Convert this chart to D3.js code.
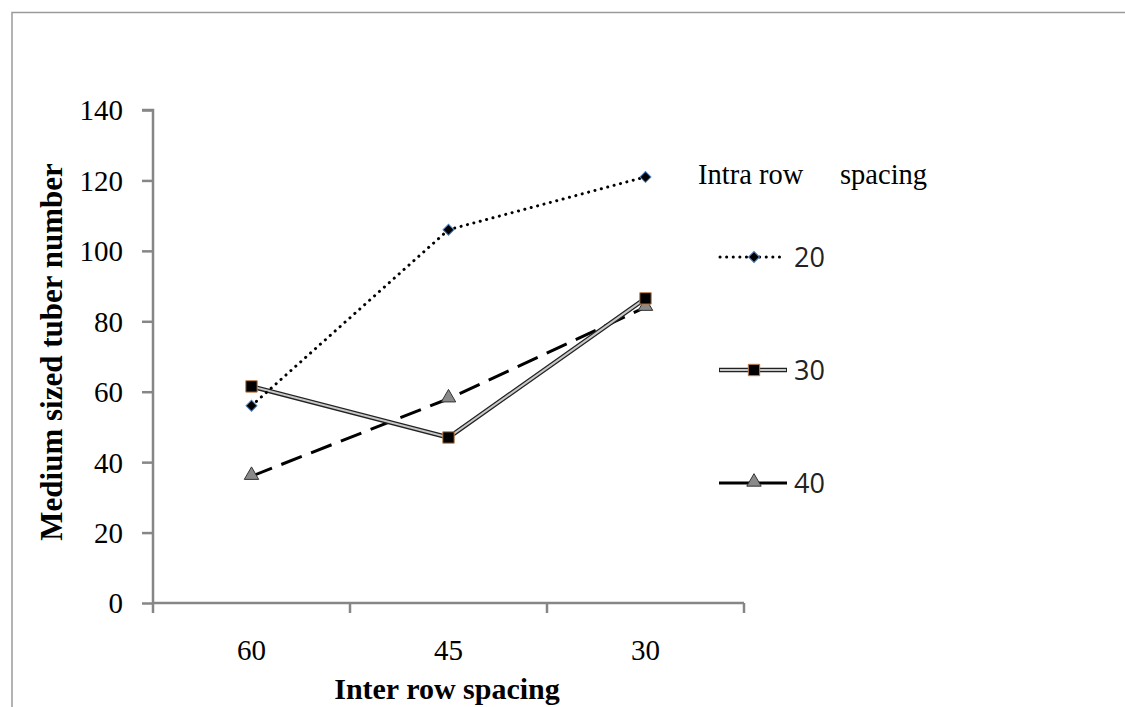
<!DOCTYPE html>
<html><head><meta charset="utf-8">
<script src="https://cdn.jsdelivr.net/npm/d3@7"></script>
<style>body{margin:0;background:#fff}svg{display:block}
.serif{font-family:"Liberation Serif","Times New Roman",serif}
.sans{font-family:"Open Sans","Liberation Sans",sans-serif}</style>
</head><body>
<script>
const categories = ["60", "45", "30"];
const seriesNames = ["20", "30", "40"];
const values20 = [56, 106, 121];
const values30 = [61.5, 47, 86.5];
const values40 = [36, 58, 84];
const yTicks = [0, 20, 40, 60, 80, 100, 120, 140];

const W = 1125, H = 707;
const svg = d3.select("body").append("svg").attr("width", W).attr("height", H);

// outer border
svg.append("path").attr("d", "M12,707 V12.5 H1125").attr("fill", "none")
  .attr("stroke", "#9a9a9a").attr("stroke-width", 1.5);

const x0 = 153, x1 = 744, y0 = 603, y1 = 110;
const x = d3.scaleBand().domain(categories).range([x0, x1]);
const y = d3.scaleLinear().domain([0, 140]).range([y0, y1]);

const axisColor = "#868686";
const yAxis = svg.append("g").attr("transform", `translate(${x0},0)`)
  .call(d3.axisLeft(y).tickValues(yTicks).tickSize(11).tickPadding(19).tickFormat(d3.format("d")));
yAxis.attr("font-family", null).attr("font-size", null);
yAxis.select(".domain").attr("stroke", axisColor).attr("stroke-width", 2.5).attr("d", `M-11,${y1}H0V${y0}`);
yAxis.selectAll(".tick line").attr("stroke", axisColor).attr("stroke-width", 2.5);
yAxis.selectAll(".tick text").attr("class", "serif").attr("font-family", "Liberation Serif")
  .style("font-size", "29px").attr("fill", "#000").attr("dy", "0.34em");

const xAxis = svg.append("g").attr("transform", `translate(0,${y0})`);
xAxis.append("line").attr("x1", x0).attr("x2", x1).attr("stroke", axisColor).attr("stroke-width", 2.5);
const bounds = categories.map(c => x(c)).concat([x1]);
xAxis.selectAll("line.tk").data(bounds).join("line").attr("class", "tk")
  .attr("x1", d => d).attr("x2", d => d).attr("y1", 0).attr("y2", 10)
  .attr("stroke", axisColor).attr("stroke-width", 2.5);
xAxis.selectAll("text").data(categories).join("text").attr("class", "serif").attr("font-family", "Liberation Serif")
  .attr("x", d => x(d) + x.bandwidth() / 2).attr("y", 57).attr("text-anchor", "middle")
  .style("font-size", "29px").text(d => d);

// axis titles
svg.append("text").attr("class", "serif").attr("transform", `translate(62,352) rotate(-90)`).attr("text-anchor", "middle")
  .attr("font-weight", "bold").style("font-size", "31px")
  .text("Medium sized tuber number");
svg.append("text").attr("class", "serif").attr("x", 447).attr("y", 699).attr("text-anchor", "middle")
  .attr("font-weight", "bold").style("font-size", "30px")
  .text("Inter row spacing");

const cx = c => x(c) + x.bandwidth() / 2;
const line = d3.line().x(d => cx(d.c)).y(d => y(d.v));
const mk = vals => categories.map((c, i) => ({c, v: vals[i]}));

const d20 = mk(values20), d30 = mk(values30), d40 = mk(values40);

// series 40 dashed
svg.append("path").attr("d", line(d40)).attr("fill", "none").attr("stroke", "#000")
  .attr("stroke-width", 3).attr("stroke-dasharray", "22,10");
// series 30 double line
svg.append("path").attr("d", line(d30)).attr("fill", "none").attr("stroke", "#222").attr("stroke-width", 4.5);
svg.append("path").attr("d", line(d30)).attr("fill", "none").attr("stroke", "#c8c8c8").attr("stroke-width", 2);
// series 20 dotted
svg.append("path").attr("d", line(d20)).attr("fill", "none").attr("stroke", "#000")
  .attr("stroke-width", 3).attr("stroke-dasharray", "0.1,6.5").attr("stroke-linecap", "round");

const sym = {
  diamond: d3.symbol().type(d3.symbolSquare).size(60),
  square: d3.symbol().type(d3.symbolSquare).size(130),
  tri: d3.symbol().type(d3.symbolTriangle).size(90)
};
const markerTransform = kind => kind === "diamond" ? " rotate(45)" : kind === "tri" ? " translate(0,-1)" : "";
const markerFill = kind => kind === "tri" ? "#8a8a8a" : "#000";
const markerStroke = kind => kind === "diamond" ? "#4f81bd" : kind === "square" ? "#c0804d" : "#333";
function drawMarkers(data, kind) {
  svg.append("g").selectAll("path").data(data).join("path")
    .attr("transform", d => `translate(${cx(d.c)},${y(d.v)})` + markerTransform(kind))
    .attr("d", sym[kind]).attr("fill", markerFill(kind))
    .attr("stroke", markerStroke(kind)).attr("stroke-width", 1);
}
drawMarkers(d40, "tri");
drawMarkers(d30, "square");
drawMarkers(d20, "diamond");

// legend
svg.append("text").attr("class", "serif").attr("x", 698).attr("y", 184).style("font-size", "28.5px").text("Intra row");
svg.append("text").attr("class", "serif").attr("x", 840).attr("y", 184).style("font-size", "28.5px").text("spacing");
const legY = [257, 370, 483];
const kinds = ["diamond", "square", "tri"];
seriesNames.forEach((n, i) => {
  const g = svg.append("g").attr("transform", `translate(0,${legY[i]})`);
  if (i === 0) {
    g.append("line").attr("x1", 720).attr("x2", 784).attr("stroke", "#000").attr("stroke-width", 3)
      .attr("stroke-dasharray", "0.1,6.5").attr("stroke-linecap", "round");
  } else if (i === 1) {
    g.append("line").attr("x1", 719).attr("x2", 787).attr("stroke", "#222").attr("stroke-width", 4.5);
    g.append("line").attr("x1", 720).attr("x2", 786).attr("stroke", "#c8c8c8").attr("stroke-width", 2);
  } else {
    g.append("line").attr("x1", 719).attr("x2", 787).attr("stroke", "#000").attr("stroke-width", 3);
  }
  g.append("path").attr("transform", `translate(754,0)` + markerTransform(kinds[i]))
    .attr("d", sym[kinds[i]]).attr("fill", markerFill(kinds[i])).attr("stroke", markerStroke(kinds[i]));
  g.append("text").attr("class", "sans").attr("x", 794).attr("y", 10).style("font-size", "27px")
    .attr("fill", "#222").text(n);
});
</script>
</body></html>
